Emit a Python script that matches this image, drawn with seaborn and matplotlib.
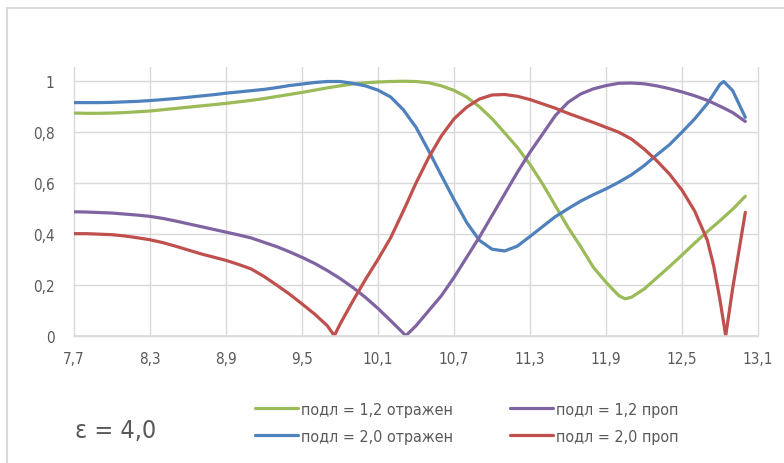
import matplotlib
matplotlib.use("Agg")
import matplotlib.pyplot as plt
import seaborn as sns
import pandas as pd
from matplotlib.lines import Line2D
from matplotlib.patches import Rectangle
from matplotlib.font_manager import FontProperties, fontManager

# ---------------- data ----------------
x_green = [7.7, 7.8, 7.9, 8.0, 8.1, 8.2, 8.3, 8.4, 8.5, 8.6, 8.7, 8.8, 8.9, 9.0,
           9.1, 9.2, 9.3, 9.4, 9.5, 9.6, 9.7, 9.8, 9.9, 10.0, 10.1, 10.2, 10.3,
           10.4, 10.5, 10.6, 10.7, 10.8, 10.9, 11.0, 11.1, 11.2, 11.3, 11.4, 11.5,
           11.6, 11.7, 11.8, 11.9, 12.0, 12.05, 12.1, 12.2, 12.3, 12.4, 12.5, 12.6,
           12.7, 12.8, 12.9, 13.0]
y_green = [0.875, 0.874, 0.874, 0.875, 0.877, 0.880, 0.883, 0.888, 0.893, 0.898,
           0.903, 0.908, 0.913, 0.919, 0.925, 0.932, 0.940, 0.948, 0.956, 0.965,
           0.974, 0.982, 0.989, 0.994, 0.997, 0.999, 1.000, 0.999, 0.994, 0.982,
           0.964, 0.938, 0.900, 0.853, 0.797, 0.740, 0.673, 0.596, 0.511, 0.426,
           0.350, 0.269, 0.210, 0.158, 0.145, 0.151, 0.183, 0.227, 0.271, 0.317,
           0.364, 0.409, 0.452, 0.497, 0.548]

x_blue = [7.7, 7.8, 7.9, 8.0, 8.1, 8.2, 8.3, 8.4, 8.5, 8.6, 8.7, 8.8, 8.9, 9.0,
          9.1, 9.2, 9.3, 9.4, 9.5, 9.6, 9.7, 9.8, 9.9, 10.0, 10.1, 10.2, 10.3,
          10.4, 10.5, 10.6, 10.7, 10.8, 10.9, 11.0, 11.1, 11.2, 11.3, 11.4, 11.5,
          11.6, 11.7, 11.8, 11.9, 12.0, 12.1, 12.2, 12.3, 12.4, 12.5, 12.6, 12.7,
          12.8, 12.83, 12.9, 13.0]
y_blue = [0.916, 0.916, 0.916, 0.917, 0.919, 0.921, 0.924, 0.928, 0.932, 0.937,
          0.942, 0.947, 0.953, 0.958, 0.963, 0.968, 0.975, 0.983, 0.989, 0.995,
          0.999, 0.999, 0.992, 0.982, 0.965, 0.938, 0.888, 0.819, 0.727, 0.630,
          0.535, 0.445, 0.375, 0.340, 0.333, 0.352, 0.390, 0.429, 0.468, 0.499,
          0.529, 0.554, 0.577, 0.603, 0.632, 0.668, 0.710, 0.750, 0.800, 0.852,
          0.912, 0.988, 0.999, 0.963, 0.858]

x_purple = [7.7, 7.8, 7.9, 8.0, 8.1, 8.2, 8.3, 8.4, 8.5, 8.6, 8.7, 8.8, 8.9, 9.0,
            9.1, 9.2, 9.3, 9.4, 9.5, 9.6, 9.7, 9.8, 9.9, 10.0, 10.1, 10.2, 10.3,
            10.32, 10.4, 10.5, 10.6, 10.7, 10.8, 10.9, 11.0, 11.1, 11.2, 11.3, 11.4,
            11.5, 11.6, 11.7, 11.8, 11.9, 12.0, 12.1, 12.2, 12.3, 12.4, 12.5, 12.6,
            12.7, 12.8, 12.9, 13.0]
y_purple = [0.487, 0.486, 0.484, 0.482, 0.478, 0.474, 0.469, 0.461, 0.451, 0.440,
            0.429, 0.418, 0.407, 0.396, 0.384, 0.367, 0.350, 0.330, 0.308, 0.284,
            0.256, 0.225, 0.190, 0.151, 0.107, 0.059, 0.010, 0.000, 0.039, 0.098,
            0.157, 0.229, 0.308, 0.387, 0.472, 0.557, 0.642, 0.721, 0.793, 0.865,
            0.917, 0.950, 0.970, 0.983, 0.992, 0.993, 0.990, 0.982, 0.971, 0.958,
            0.943, 0.925, 0.902, 0.877, 0.842]

x_red = [7.7, 7.8, 7.9, 8.0, 8.1, 8.2, 8.3, 8.4, 8.5, 8.6, 8.7, 8.8, 8.9, 9.0,
         9.1, 9.2, 9.3, 9.4, 9.5, 9.6, 9.7, 9.755, 9.8, 9.9, 10.0, 10.1, 10.2, 10.3,
         10.4, 10.5, 10.6, 10.7, 10.8, 10.9, 11.0, 11.1, 11.2, 11.3, 11.4, 11.5,
         11.6, 11.7, 11.8, 11.9, 12.0, 12.1, 12.2, 12.3, 12.4, 12.5, 12.6, 12.7,
         12.75, 12.8, 12.845, 12.9, 13.0]
y_red = [0.401, 0.401, 0.399, 0.397, 0.392, 0.385, 0.377, 0.366, 0.352, 0.337,
         0.322, 0.309, 0.296, 0.280, 0.262, 0.233, 0.199, 0.164, 0.125, 0.085,
         0.039, 0.000, 0.045, 0.135, 0.220, 0.300, 0.385, 0.490, 0.600, 0.700,
         0.785, 0.852, 0.898, 0.930, 0.946, 0.948, 0.941, 0.928, 0.911, 0.894,
         0.874, 0.856, 0.838, 0.819, 0.800, 0.773, 0.734, 0.688, 0.636, 0.572,
         0.490, 0.375, 0.275, 0.140, 0.000, 0.186, 0.485]

series_names = ["подл = 1,2 отражен", "подл = 2,0 отражен",
                "подл = 1,2 проп", "подл = 2,0 проп"]
series_colors = ["#9BBB59", "#4F81BD", "#8064A2", "#C0504D"]

x_ticks = [7.7, 8.3, 8.9, 9.5, 10.1, 10.7, 11.3, 11.9, 12.5, 13.1]
x_tick_labels = ["7,7", "8,3", "8,9", "9,5", "10,1", "10,7", "11,3", "11,9", "12,5", "13,1"]
y_ticks = [0, 0.2, 0.4, 0.6, 0.8, 1.0]
y_tick_labels = ["0", "0,2", "0,4", "0,6", "0,8", "1"]
annotation = "ε = 4,0"

# ---------------- build table ----------------
frames = []
for name, xs, ys in zip(series_names,
                        [x_green, x_blue, x_purple, x_red],
                        [y_green, y_blue, y_purple, y_red]):
    frames.append(pd.DataFrame({"x": xs, "y": ys, "series": name}))
df = pd.concat(frames, ignore_index=True)

sns.set_theme(style="white")
plt.rcParams["font.family"] = ["DejaVu Sans"]

cond = "condensed" if any("Condensed" in f.name or f.stretch in ("condensed", 500 - 125)
                          for f in fontManager.ttflist if "DejaVu" in f.name) else "normal"

W, H = 784, 464
fig = plt.figure(figsize=(W / 100, H / 100), dpi=100)
fig.patch.set_facecolor("white")
ax = fig.add_axes([74 / W, (H - 336.7) / H, 684 / W, (336.7 - 68) / H])

palette = dict(zip(series_names, series_colors))
sns.lineplot(data=df, x="x", y="y", hue="series", hue_order=series_names,
             palette=palette, estimator=None, sort=True, linewidth=2.3,
             legend=False, ax=ax)
for ln in ax.get_lines():
    ln.set_solid_joinstyle("round")
    ln.set_solid_capstyle("round")

ax.set_xlim(7.7, 13.1)
ax.set_ylim(0, 1.056)
ax.set_xticks(x_ticks)
ax.set_xticklabels(x_tick_labels)
ax.set_yticks(y_ticks)
ax.set_yticklabels(y_tick_labels)
ax.set_xlabel("")
ax.set_ylabel("")
ax.grid(True, color="#D9D9D9", linewidth=1.0)
ax.set_axisbelow(True)
for s in ["top", "left", "right"]:
    ax.spines[s].set_visible(False)
ax.spines["bottom"].set_color("#D9D9D9")
ax.spines["bottom"].set_linewidth(1.2)
tick_fp = FontProperties(family="DejaVu Sans", stretch=cond, size=11)
ax.tick_params(axis="both", length=0, labelcolor="#595959")
ax.tick_params(axis="x", pad=11)
ax.tick_params(axis="y", pad=14)
for lab in ax.get_xticklabels() + ax.get_yticklabels():
    lab.set_fontproperties(tick_fp)
for line in ax.get_xgridlines() + ax.get_ygridlines():
    line.set_clip_on(False)

# outer chart frame
fig.add_artist(Rectangle((7 / W, -0.2), 1.5, 1.2 - 9 / H, transform=fig.transFigure,
                         fill=False, edgecolor="#D9D9D9", linewidth=1.5))

# legend
leg_fp = FontProperties(family="DejaVu Sans", stretch=cond, size=11.5)
handles = [Line2D([0], [0], color=c, lw=2.3) for c in series_colors]
fig.legend(handles, series_names, loc="upper left",
           bbox_to_anchor=(255 / W, 1 - 403 / H), ncol=2, frameon=False,
           prop=leg_fp, handlelength=2.7, handletextpad=0.15,
           columnspacing=3.6, labelspacing=0.75, borderpad=0, borderaxespad=0,
           labelcolor="#595959")

ann_fp = FontProperties(family="DejaVu Sans", stretch=cond, size=18)
fig.text(116 / W, 1 - 431 / H, annotation, ha="center", va="center",
         fontproperties=ann_fp, color="#595959")

fig.savefig("out.png", dpi=100, facecolor="white")
